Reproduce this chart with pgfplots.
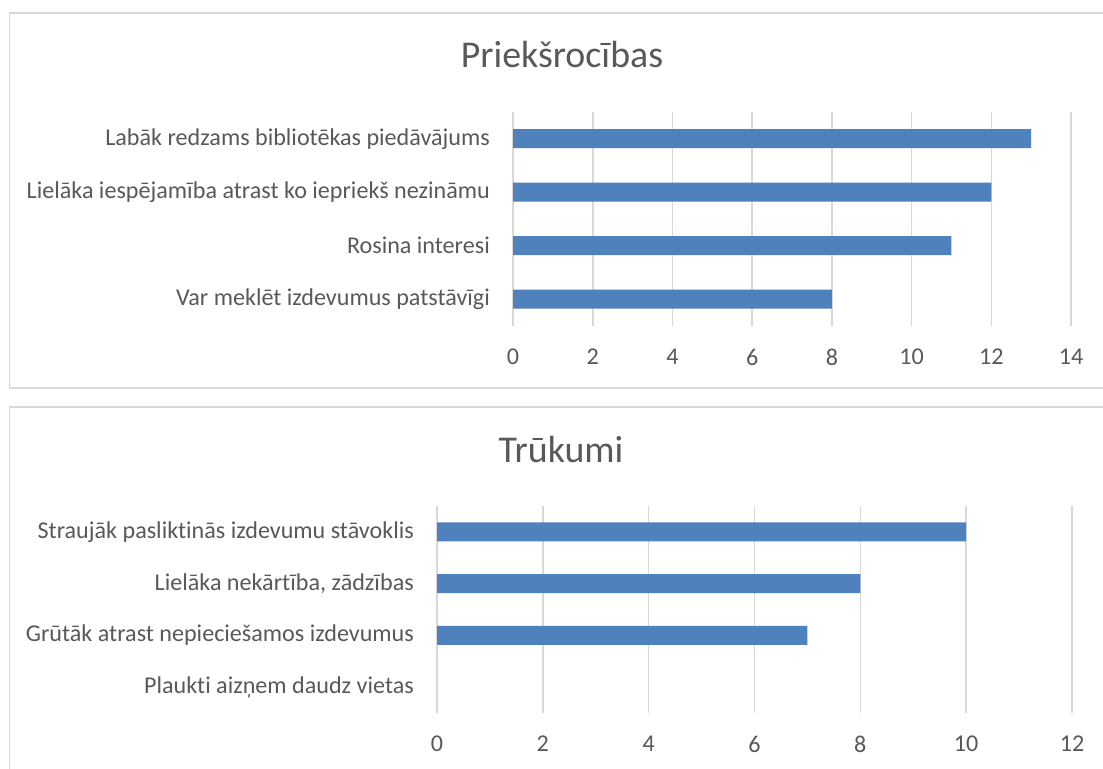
\documentclass[border=0pt]{standalone}
\usepackage{fontspec}
\setmainfont{Carlito}[Ligatures=NoCommon]
\usepackage{pgfplots}
\pgfplotsset{compat=1.18}
\definecolor{barblue}{HTML}{4F81BD}
\definecolor{txt}{HTML}{595959}
\definecolor{gridc}{HTML}{D9D9D9}
\pgfplotsset{
  mystyle/.style={
    scale only axis, xbar, bar width=19bp, bar shift=0pt,
    axis line style={draw=none}, major tick length=0pt, tick style={draw=none},
    xmajorgrids, grid style={gridc, line width=1.6bp},
    ytick={0,1,2,3}, ymin=-0.5, ymax=3.5,
    xmin=0,
    ticklabel style={font=\fontsize{24.2}{28}\selectfont, text=txt, inner sep=0pt},
    /pgf/number format/assume math mode=true,
    yticklabel style={anchor=east},
    xticklabel style={anchor=north},
    yticklabel shift=23bp,
    xticklabel shift=23bp,
    clip=false,
  }
}
\begin{document}
\begin{tikzpicture}[x=1bp,y=1bp]
\useasboundingbox[fill=white] (0,0) rectangle (1103,769);
\draw[gridc, line width=1.5bp] (1115,756) -- (9.5,756) -- (9.5,381) -- (1115,381);
\draw[gridc, line width=1.5bp] (1115,362) -- (9.5,362) -- (9.5,-10);
\node[anchor=base, text=txt, font=\fontsize{38}{42}\selectfont] at (562,701) {Priekšrocības};
\node[anchor=base, text=txt, font=\fontsize{38}{42}\selectfont] at (561,306) {Trūkumi};
\begin{axis}[mystyle, at={(513bp,443bp)}, anchor=south west, width=558bp, height=214bp,
  xmax=14, xtick={0,2,...,14},
  yticklabels={Var meklēt izdevumus patstāvīgi, Rosina interesi, Lielāka iespējamība atrast ko iepriekš nezināmu, Labāk redzams bibliotēkas piedāvājums}]
\addplot[fill=barblue, draw=none] coordinates {(8,0) (11,1) (12,2) (13,3)};
\end{axis}
\begin{axis}[mystyle, at={(437bp,56bp)}, anchor=south west, width=635bp, height=207bp,
  xmax=12, xtick={0,2,...,12},
  yticklabels={Plaukti aizņem daudz vietas, Grūtāk atrast nepieciešamos izdevumus, {Lielāka nekārtība, zādzības}, Straujāk pasliktinās izdevumu stāvoklis}]
\addplot[fill=barblue, draw=none] coordinates {(7,1) (8,2) (10,3)};
\end{axis}
\end{tikzpicture}
\end{document}
